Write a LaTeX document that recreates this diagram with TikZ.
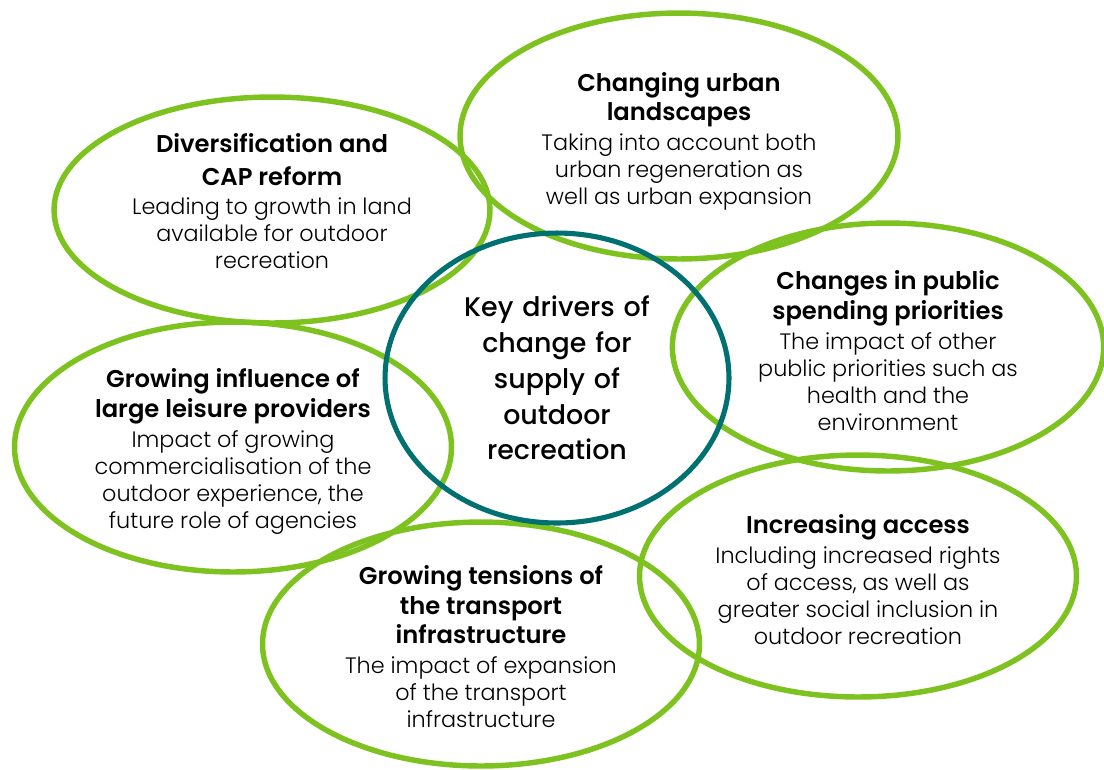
\documentclass[tikz,border=0pt]{standalone}
\usepackage{fontspec}
\setmainfont{Poppins}
\newfontfamily\drvlight{Poppins Light}
\newfontfamily\drvsemi{Poppins SemiBold}
\newfontfamily\drvmedium{Poppins Medium}
\usetikzlibrary{shapes.geometric}
\definecolor{leafgreen}{RGB}{125,194,30}
\definecolor{deepteal}{RGB}{0,112,112}
\setlength{\lineskiplimit}{-20pt}
% title / body fonts of the outer drivers; the rule pads the first line
\newcommand{\drvhead}[1]{\fontsize{13.8}{16.8}\drvsemi\selectfont\rule{0pt}{#1}}
\newcommand{\drvtext}{\vspace{1.5pt}\fontsize{12.7}{15.4}\drvlight\selectfont}

\begin{document}
\begin{tikzpicture}[
      x=0.02cm, y=-0.02cm,
      driver/.style={ellipse, draw=leafgreen, line width=3.1pt, inner sep=0pt,
                     align=center, text width=6.1cm},
      core/.style={ellipse, draw=deepteal, line width=2.9pt, inner sep=0pt,
                   align=center, text width=4.6cm,
                   font=\fontsize{15.3}{20.4}\drvmedium\selectfont}
    ]
    \useasboundingbox (0,0) rectangle (1104,769);
    % --- outer ring of drivers ---
    \node[driver, minimum width=8.72cm, minimum height=4.52cm] (cap) at (272,210)
      {\drvhead{11pt}Diversification and\\[1.6pt]CAP reform\par
       \drvtext Leading to growth in land\\available for outdoor\\recreation\rule[-10pt]{0pt}{10pt}\par};
    \node[driver, minimum width=8.76cm, minimum height=4.92cm] (urban) at (679,136)
      {\drvhead{17pt}Changing urban\\landscapes\par
       \drvtext Taking into account both\\urban regeneration as\\well as urban expansion\par};
    \node[driver, minimum width=8.54cm, minimum height=4.96cm] (spend) at (888,347)
      {\drvhead{15pt}Changes in public\\spending priorities\par
       \drvtext The impact of other\\public priorities such as\\health and the\\environment\par};
    \node[driver, minimum width=8.74cm, minimum height=5.00cm] (leisure) at (233,447)
      {\drvhead{16pt}Growing influence of\\large leisure providers\par
       \drvtext Impact of growing\\commercialisation of the\\outdoor experience, the\\future role of agencies\par};
    \node[driver, minimum width=8.74cm, minimum height=4.84cm] (access) at (858,576)
      {\drvhead{15pt}Increasing access\par
       \drvtext Including increased rights\\of access, as well as\\greater social inclusion in\\outdoor recreation\par};
    \node[driver, minimum width=8.74cm, minimum height=4.88cm] (transport) at (481,644)
      {\drvhead{14pt}Growing tensions of\\the transport\\infrastructure\par
       \drvtext The impact of expansion\\of the transport\\infrastructure\par};
    % --- centre ---
    \node[core, minimum width=6.88cm, minimum height=5.80cm] (drivers) at (557,378)
      {Key drivers of\\change for\\supply of\\outdoor\\recreation};
\end{tikzpicture}
\end{document}
